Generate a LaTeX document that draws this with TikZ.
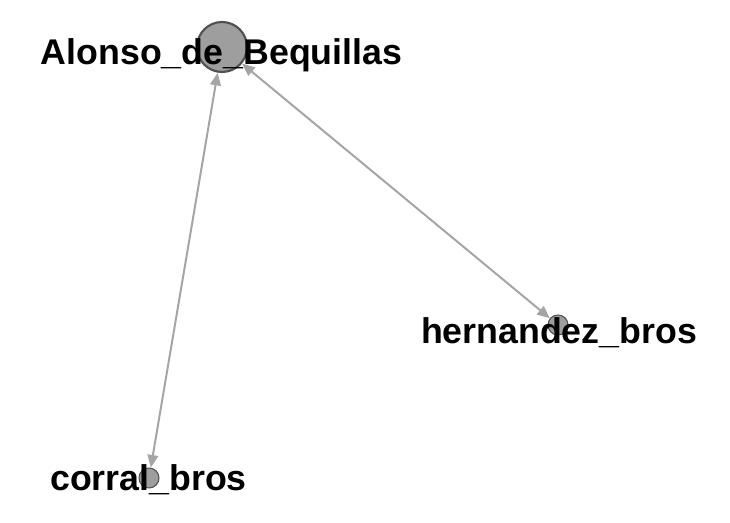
\documentclass[tikz,border=0pt]{standalone}
\usepackage{fontspec}
\setmainfont{Liberation Sans}
\usetikzlibrary{arrows.meta,positioning}
\definecolor{nodefill}{RGB}{158,158,158}
\definecolor{nodeline}{RGB}{80,80,80}
\definecolor{linkgray}{RGB}{165,165,165}

\begin{document}
\begin{tikzpicture}[
    x=0.75pt, y=-0.75pt,
    vertex/.style={circle, draw=nodeline, fill=nodefill, inner sep=0pt},
    bignode/.style={vertex, minimum size=37.5pt, line width=1.6pt},
    smallnode/.style={vertex, minimum size=15pt, line width=0.8pt},
    namelabel/.style={anchor=base, inner sep=0pt, font=\fontsize{26.8}{30}\selectfont\bfseries},
    link/.style={{Triangle[length=9.5pt,width=8pt]}-{Triangle[length=9.5pt,width=8pt]}, draw=linkgray, fill=linkgray, line width=1.5pt}
]
\useasboundingbox (0,0) rectangle (730,523);
\node[bignode] (alonso) at (222,47) {};
\node[smallnode] (hernandez) at (558,325) {};
\node[smallnode] (corral) at (149,478) {};
\draw[link] (alonso) -- (corral);
\draw[link] (alonso) -- (hernandez);
\node[namelabel] (alonsoname) at (221.5,65) {Alonso\_de\_Bequillas};
\node[namelabel] (hernandezname) at (559,343) {hernandez\_bros};
\node[namelabel] (corralname) at (148.5,490) {corral\_bros};
\end{tikzpicture}
\end{document}
